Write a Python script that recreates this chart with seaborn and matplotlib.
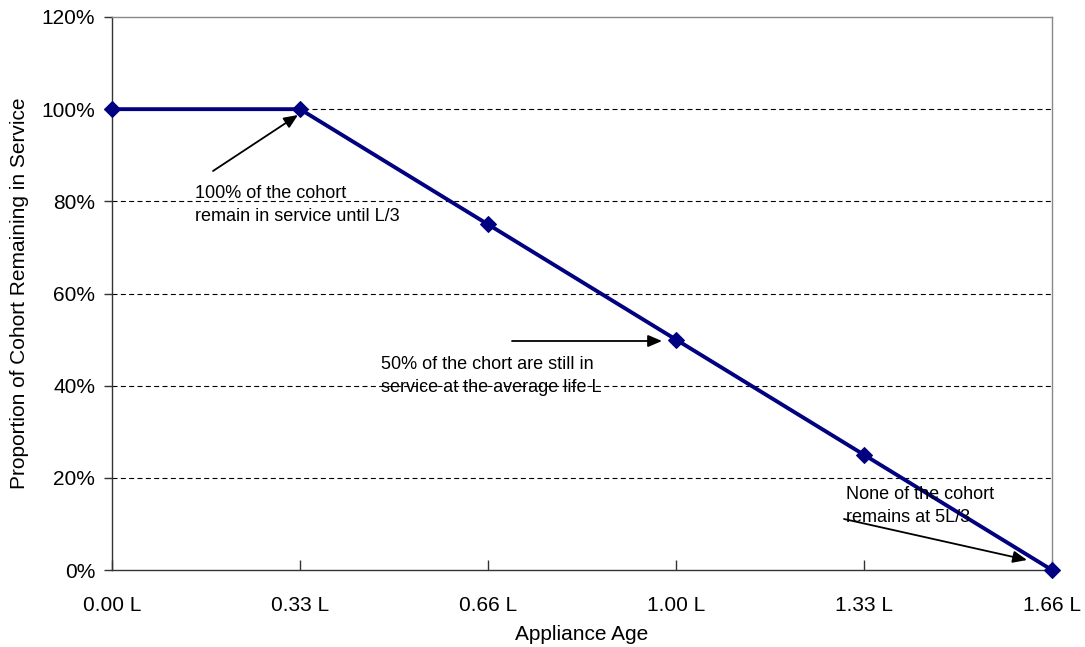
import matplotlib
matplotlib.use("Agg")
import matplotlib.pyplot as plt
import seaborn as sns
import pandas as pd
from matplotlib.ticker import PercentFormatter

# Data
age_labels = ["0.00 L", "0.33 L", "0.66 L", "1.00 L", "1.33 L", "1.66 L"]
remaining = [1.00, 1.00, 0.75, 0.50, 0.25, 0.00]
y_ticks = [0.0, 0.2, 0.4, 0.6, 0.8, 1.0, 1.2]

df = pd.DataFrame({"pos": list(range(len(age_labels))), "remaining": remaining})

sns.set_theme(style="white")
plt.rcParams["font.family"] = ["Liberation Sans", "DejaVu Sans"]
plt.rcParams["text.color"] = "black"

fig = plt.figure(figsize=(10.85, 6.47), dpi=100)
ax = fig.add_axes([112/1085, 1-570/647, (1052-112)/1085, (570-17)/647])

# gridlines
for yv in y_ticks[1:-1]:
    ax.axhline(yv, color="#000000", linewidth=0.8, dashes=(4.5, 3), zorder=1)

sns.lineplot(data=df, x="pos", y="remaining", ax=ax, color="#000080",
             linewidth=2.8, marker="D", markersize=8.5, markeredgecolor="#000080",
             markerfacecolor="#000080", zorder=3, clip_on=False)

ax.set_xlim(0, len(age_labels) - 1)
ax.set_ylim(0, 1.2)
ax.set_xticks(range(len(age_labels)))
ax.set_xticklabels(age_labels)
ax.set_yticks(y_ticks)
ax.yaxis.set_major_formatter(PercentFormatter(1.0, decimals=0))

for s in ["left", "bottom"]:
    ax.spines[s].set_color("#333333")
    ax.spines[s].set_linewidth(1.0)
for s in ["top", "right"]:
    ax.spines[s].set_color("#888888")
    ax.spines[s].set_linewidth(1.0)
    ax.spines[s].set_visible(True)

ax.tick_params(axis="x", direction="in", length=7, width=1, color="#333333",
               labelsize=15, pad=19, labelcolor="#000000", bottom=True)
ax.tick_params(axis="y", direction="out", length=6, width=1, color="#333333",
               labelsize=15, pad=6, labelcolor="#000000", left=True)

ax.set_xlabel("Appliance Age", fontsize=15, labelpad=7, color="#000000")
ax.set_ylabel("Proportion of Cohort Remaining in Service", fontsize=15,
              labelpad=9, color="#000000")

# annotations (pixel coordinates converted to data via axes)
def px(x, y):
    return ((x - 112) / (1052 - 112) * 5, (570 - y) / (570 - 17) * 1.2)

arrowprops = dict(arrowstyle="-|>,head_length=0.7,head_width=0.3", color="black",
                  linewidth=1.3, shrinkA=0, shrinkB=0)

ax.annotate("", xy=px(298, 115), xytext=px(213, 171), arrowprops=arrowprops)
ax.text(*px(195, 185), "100% of the cohort\nremain in service until L/3",
        fontsize=13, va="top", ha="left", linespacing=1.45, color="black")

ax.annotate("", xy=px(662, 341), xytext=px(512, 341), arrowprops=arrowprops)
ax.text(*px(381, 356), "50% of the chort are still in\nservice at the average life L",
        fontsize=13, va="top", ha="left", linespacing=1.45, color="black")

ax.annotate("", xy=px(1027, 560), xytext=px(844, 519), arrowprops=arrowprops)
ax.text(*px(846, 486), "None of the cohort\nremains at 5L/3",
        fontsize=13, va="top", ha="left", linespacing=1.45, color="black")

fig.savefig("out.png", dpi=100)
